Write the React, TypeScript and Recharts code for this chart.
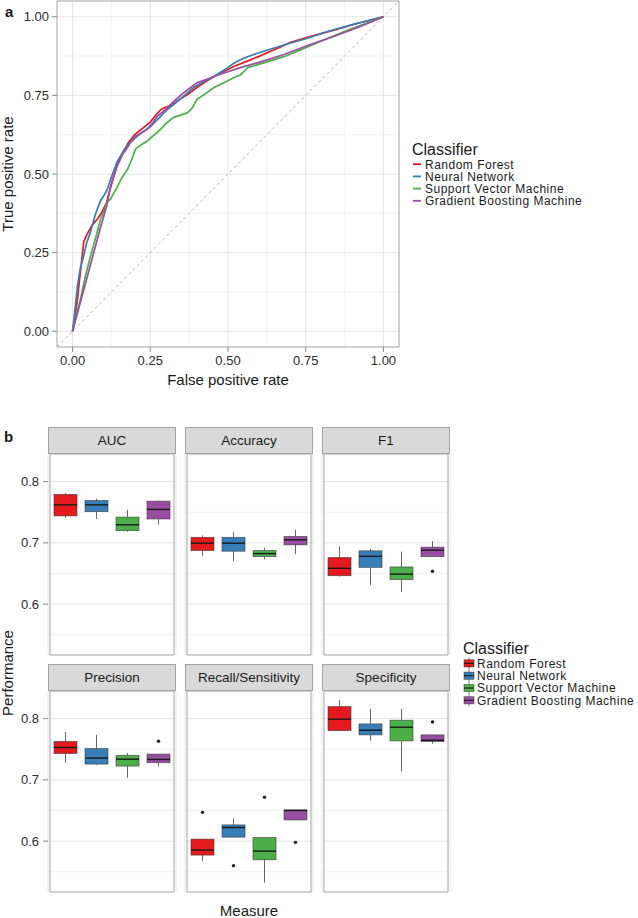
import React from "react"
import {
  Bar,
  CartesianGrid,
  ComposedChart,
  Legend,
  Line,
  LineChart,
  ReferenceArea,
  ReferenceLine,
  Scatter,
  XAxis,
  YAxis,
} from "recharts"

const FONT = '"Liberation Sans", Arial, Helvetica, sans-serif'

const classifiers = [
  "Random Forest",
  "Neural Network",
  "Support Vector Machine",
  "Gradient Boosting Machine",
]
const classifierColors = ["#E41A1C", "#377EB8", "#4DAF4A", "#984EA3"]

// panel a: ROC curves
const rfFpr = [0, 0.01, 0.016, 0.022, 0.03, 0.036, 0.045, 0.053, 0.065, 0.08, 0.095, 0.11, 0.12, 0.135, 0.144, 0.16, 0.18, 0.2, 0.225, 0.25, 0.27, 0.285, 0.3, 0.32, 0.34, 0.37, 0.4, 0.43, 0.466, 0.5, 0.518, 0.56, 0.6, 0.627, 0.66, 0.7, 0.75, 0.787, 0.85, 0.92, 1]
const rfTpr = [0, 0.06, 0.104, 0.16, 0.23, 0.285, 0.305, 0.32, 0.34, 0.357, 0.38, 0.41, 0.45, 0.5, 0.535, 0.565, 0.6, 0.625, 0.645, 0.665, 0.69, 0.705, 0.712, 0.72, 0.735, 0.753, 0.775, 0.795, 0.816, 0.832, 0.842, 0.858, 0.874, 0.886, 0.9, 0.918, 0.933, 0.943, 0.96, 0.98, 1]

const nnFpr = [0, 0.008, 0.016, 0.025, 0.036, 0.045, 0.058, 0.07, 0.08, 0.09, 0.1, 0.11, 0.125, 0.144, 0.165, 0.18, 0.197, 0.22, 0.25, 0.28, 0.305, 0.33, 0.36, 0.39, 0.42, 0.455, 0.49, 0.52, 0.55, 0.583, 0.63, 0.68, 0.75, 0.82, 0.9, 1]
const nnTpr = [0, 0.07, 0.146, 0.2, 0.24, 0.28, 0.316, 0.36, 0.39, 0.415, 0.43, 0.447, 0.49, 0.54, 0.575, 0.595, 0.61, 0.63, 0.65, 0.68, 0.705, 0.725, 0.75, 0.775, 0.793, 0.81, 0.832, 0.853, 0.868, 0.88, 0.895, 0.91, 0.93, 0.953, 0.975, 1]

const svmFpr = [0, 0.012, 0.026, 0.04, 0.058, 0.075, 0.09, 0.1, 0.11, 0.122, 0.133, 0.144, 0.16, 0.177, 0.19, 0.203, 0.22, 0.24, 0.26, 0.283, 0.3, 0.325, 0.35, 0.37, 0.385, 0.4, 0.43, 0.455, 0.49, 0.518, 0.54, 0.563, 0.62, 0.68, 0.73, 0.787, 0.88, 1]
const svmTpr = [0, 0.05, 0.104, 0.17, 0.24, 0.3, 0.357, 0.38, 0.41, 0.42, 0.44, 0.46, 0.49, 0.515, 0.545, 0.58, 0.592, 0.605, 0.622, 0.642, 0.66, 0.68, 0.688, 0.695, 0.71, 0.737, 0.757, 0.775, 0.792, 0.806, 0.815, 0.838, 0.855, 0.873, 0.893, 0.917, 0.955, 1]

const gbmFpr = [0, 0.03, 0.06, 0.09, 0.11, 0.122, 0.135, 0.144, 0.16, 0.18, 0.197, 0.22, 0.24, 0.26, 0.273, 0.3, 0.325, 0.36, 0.4, 0.43, 0.455, 0.5, 0.54, 0.6, 0.68, 0.76, 0.84, 0.92, 1]
const gbmTpr = [0, 0.11, 0.22, 0.33, 0.4, 0.46, 0.5, 0.526, 0.56, 0.59, 0.617, 0.63, 0.642, 0.665, 0.684, 0.705, 0.731, 0.76, 0.79, 0.8, 0.81, 0.825, 0.838, 0.855, 0.88, 0.91, 0.937, 0.967, 1]

const rocTicks = [0, 0.25, 0.5, 0.75, 1]
const rocMinor = [0.125, 0.375, 0.625, 0.875]
const rocDomain = [-0.05, 1.05]

// panel b: per classifier [lower whisker, q1, median, q3, upper whisker, outlier]
const aucStats = [
  [0.741, 0.744, 0.762, 0.779, 0.781, null],
  [0.739, 0.751, 0.762, 0.769, 0.772, null],
  [0.718, 0.72, 0.7295, 0.742, 0.754, null],
  [0.73, 0.739, 0.7546, 0.768, 0.769, null],
]
const accuracyStats = [
  [0.679, 0.6875, 0.6995, 0.709, 0.712, null],
  [0.67, 0.6864, 0.6995, 0.709, 0.7175, null],
  [0.673, 0.6776, 0.6825, 0.6875, 0.692, null],
  [0.6815, 0.6967, 0.705, 0.7103, 0.7213, null],
]
const f1Stats = [
  [0.645, 0.6464, 0.6585, 0.676, 0.694, null],
  [0.631, 0.66, 0.678, 0.687, 0.69, null],
  [0.62, 0.64, 0.649, 0.6607, 0.6857, null],
  [0.6776, 0.6776, 0.688, 0.693, 0.7028, 0.6536],
]
const precisionStats = [
  [0.728, 0.743, 0.7528, 0.7626, 0.778, null],
  [0.7247, 0.7257, 0.7355, 0.751, 0.7735, null],
  [0.7035, 0.7225, 0.7338, 0.74, 0.7436, null],
  [0.722, 0.728, 0.7333, 0.742, 0.742, 0.763],
]
const recallStats = [
  [0.5675, 0.5772, 0.5854, 0.6033, 0.6033, 0.647],
  [0.6065, 0.6065, 0.6222, 0.6265, 0.637, 0.56],
  [0.5326, 0.5696, 0.5837, 0.606, 0.606, 0.6715],
  [0.6346, 0.6346, 0.65, 0.651, 0.651, 0.598],
]
const specificityStats = [
  [0.78, 0.7804, 0.799, 0.8196, 0.83, null],
  [0.764, 0.7734, 0.781, 0.7913, 0.8158, null],
  [0.7136, 0.7636, 0.7859, 0.7973, 0.8158, null],
  [0.759, 0.7625, 0.7647, 0.7734, 0.7734, 0.7946],
]

const measures = ["AUC", "Accuracy", "F1", "Precision", "Recall/Sensitivity", "Specificity"]
const measureStats = [aucStats, accuracyStats, f1Stats, precisionStats, recallStats, specificityStats]

const perfTicks = [0.6, 0.7, 0.8]
const perfMinor = [0.55, 0.65, 0.75]
const perfDomain = [0.517, 0.845]

// facet layout
const PANEL_W = 128
const PANEL_H = 201
const STRIP_H = 27
const panelLefts = [48, 185, 322]
const panelTops = [454, 691]

const GRID_MAJOR = "#e6e6e6"
const GRID_MINOR = "#f3f3f3"
const BORDER = "#a3a3a3"
const TICK_TEXT = { fontSize: 13, fill: "#2b2b2b", fontFamily: FONT }

function BoxShape(props: any) {
  const { x, y, width, height, payload } = props
  if (payload == null || x == null) return <g />
  const top = Math.min(y, y + height)
  const h = Math.abs(height)
  const k = h / (payload.q3 - payload.q1)
  const py = (v: number) => top + (payload.q3 - v) * k
  const cx = x + width / 2
  return (
    <g>
      <line x1={cx} x2={cx} y1={py(payload.hi)} y2={top} stroke="#555" strokeWidth={0.9} />
      <line x1={cx} x2={cx} y1={top + h} y2={py(payload.lo)} stroke="#555" strokeWidth={0.9} />
      <rect x={x} y={top} width={width} height={h} fill={payload.color} stroke="#333" strokeOpacity={0.7} strokeWidth={0.8} />
      <line x1={x} x2={x + width} y1={py(payload.med)} y2={py(payload.med)} stroke="#1a1a1a" strokeWidth={1.4} />
    </g>
  )
}

function OutlierDot(props: any) {
  const { cx, cy, payload } = props
  if (payload == null || payload.out == null || cy == null) return <g />
  return <circle cx={cx} cy={cy} r={1.7} fill="#1a1a1a" />
}

function RocLegend() {
  return (
    <svg width={233} height={75} style={{ display: "block", overflow: "visible" }}>
      <text x={7} y={17} fontSize={16} fill="#1a1a1a" fontFamily={FONT}>
        Classifier
      </text>
      {classifiers.map((c, i) => {
        const base = 30.7 + i * 12.2
        return (
          <g key={c}>
            <line x1={8} x2={16} y1={base - 4.5} y2={base - 4.5} stroke={classifierColors[i]} strokeWidth={1.8} />
            <text x={20} y={base} fontSize={12} letterSpacing={0.5} fill="#1a1a1a" fontFamily={FONT}>
              {c}
            </text>
          </g>
        )
      })}
    </svg>
  )
}

function BoxLegend() {
  return (
    <svg width={190} height={75} style={{ display: "block", overflow: "visible" }}>
      <text x={7} y={17} fontSize={16} fill="#1a1a1a" fontFamily={FONT}>
        Classifier
      </text>
      {classifiers.map((c, i) => {
        const base = 30.7 + i * 12.3
        const mid = base - 4.3
        return (
          <g key={c}>
            <line x1={13} x2={13} y1={mid - 6} y2={mid + 6} stroke="#555" strokeWidth={0.8} />
            <rect x={8} y={mid - 3.6} width={10} height={7.2} fill={classifierColors[i]} stroke="#333" strokeOpacity={0.7} strokeWidth={0.7} />
            <line x1={8} x2={18} y1={mid} y2={mid} stroke="#1a1a1a" strokeWidth={1.1} />
            <text x={21} y={base} fontSize={12} letterSpacing={0.5} fill="#1a1a1a" fontFamily={FONT}>
              {c}
            </text>
          </g>
        )
      })}
    </svg>
  )
}

function RocPanel() {
  const series = [
    { name: classifiers[0], data: rfFpr.map((x, i) => ({ x, y: rfTpr[i] })) },
    { name: classifiers[1], data: nnFpr.map((x, i) => ({ x, y: nnTpr[i] })) },
    { name: classifiers[2], data: svmFpr.map((x, i) => ({ x, y: svmTpr[i] })) },
    { name: classifiers[3], data: gbmFpr.map((x, i) => ({ x, y: gbmTpr[i] })) },
  ]

  return (
    <div style={{ position: "absolute", left: 0, top: 0 }}>
      <LineChart width={400} height={400} margin={{ top: 1, right: 1, bottom: 23, left: 0 }}>
        <CartesianGrid horizontalValues={rocMinor} verticalValues={rocMinor} stroke={GRID_MINOR} />
        <CartesianGrid horizontalValues={rocTicks} verticalValues={rocTicks} stroke={GRID_MAJOR} />
        <XAxis
          type="number"
          dataKey="x"
          domain={rocDomain}
          ticks={rocTicks}
          allowDataOverflow
          height={30}
          tickSize={5}
          tickMargin={4}
          axisLine={false}
          tickLine={{ stroke: "#8a8a8a" }}
          tick={TICK_TEXT}
          tickFormatter={(v: number) => v.toFixed(2)}
        />
        <YAxis
          type="number"
          dataKey="y"
          domain={rocDomain}
          ticks={rocTicks}
          allowDataOverflow
          width={57}
          tickSize={5}
          tickMargin={3}
          axisLine={false}
          tickLine={{ stroke: "#8a8a8a" }}
          tick={TICK_TEXT}
          tickFormatter={(v: number) => v.toFixed(2)}
        />
        <ReferenceLine
          segment={[
            { x: rocDomain[0], y: rocDomain[0] },
            { x: rocDomain[1], y: rocDomain[1] },
          ]}
          stroke="#b5b5b5"
          strokeDasharray="3 3"
          ifOverflow="visible"
        />
        {series.map((s, i) => (
          <Line
            key={s.name}
            name={s.name}
            data={s.data}
            dataKey="y"
            type="linear"
            stroke={classifierColors[i]}
            strokeWidth={1.7}
            dot={false}
            isAnimationActive={false}
          />
        ))}
        <ReferenceArea y1={rocDomain[0]} y2={rocDomain[1]} fill="none" stroke={BORDER} ifOverflow="visible" />
        <Legend
          layout="vertical"
          align="center"
          verticalAlign="middle"
          content={() => <RocLegend />}
          wrapperStyle={{ left: 405, top: 138, width: 233, height: 75 }}
        />
      </LineChart>
    </div>
  )
}

type FacetProps = { title: string; stats: (number | null)[][]; col: number; row: number; legend?: boolean }

function Facet({ title, stats, col, row, legend }: FacetProps) {
  const data = stats.map((s, i) => ({
    name: classifiers[i],
    color: classifierColors[i],
    lo: s[0],
    q1: s[1],
    med: s[2],
    q3: s[3],
    hi: s[4],
    box: [s[1], s[3]],
    out: s[5],
  }))
  const left = panelLefts[col]
  const top = panelTops[row]
  const first = col === 0
  const chartLeft = first ? 0 : left - 1
  const chartWidth = first ? left + PANEL_W + 1 : PANEL_W + 2

  return (
    <>
      <div
        style={{
          position: "absolute",
          left,
          top: top - STRIP_H,
          width: PANEL_W,
          height: STRIP_H,
          boxSizing: "border-box",
          border: `1px solid ${BORDER}`,
          background: "#d9d9d9",
          color: "#1a1a1a",
          fontSize: 13.5,
          lineHeight: `${STRIP_H - 2}px`,
          textAlign: "center",
          whiteSpace: "nowrap",
        }}
      >
        {title}
      </div>
      <div style={{ position: "absolute", left: chartLeft, top: top - 1 }}>
        <ComposedChart
          width={chartWidth}
          height={PANEL_H + 2}
          data={data}
          margin={{ top: 1, right: 1, bottom: 1, left: first ? 0 : 1 }}
        >
          <CartesianGrid vertical={false} horizontalValues={perfMinor} stroke={GRID_MINOR} />
          <CartesianGrid horizontalValues={perfTicks} stroke={GRID_MAJOR} />
          <XAxis
            dataKey="name"
            type="category"
            height={0}
            tick={false}
            tickLine={false}
            axisLine={false}
            padding={{ left: 2, right: 2 }}
          />
          <YAxis
            type="number"
            domain={perfDomain}
            ticks={perfTicks}
            allowDataOverflow
            hide={!first}
            width={first ? left : 0}
            tickSize={5}
            tickMargin={4}
            axisLine={false}
            tickLine={{ stroke: "#8a8a8a" }}
            tick={TICK_TEXT}
            tickFormatter={(v: number) => v.toFixed(1)}
          />
          <Bar dataKey="box" barSize={23} shape={BoxShape} isAnimationActive={false} />
          <Scatter dataKey="out" shape={OutlierDot} isAnimationActive={false} />
          <ReferenceArea y1={perfDomain[0]} y2={perfDomain[1]} fill="none" stroke={BORDER} ifOverflow="visible" />
          {legend && (
            <Legend
              layout="vertical"
              align="center"
              verticalAlign="middle"
              content={() => <BoxLegend />}
              wrapperStyle={{ left: 456 - chartLeft, top: 637 - (top - 1), width: 190, height: 75 }}
            />
          )}
        </ComposedChart>
      </div>
    </>
  )
}

export default function App() {
  return (
    <div
      style={{
        position: "absolute",
        left: 0,
        top: 0,
        width: 638,
        height: 918,
        background: "#fff",
        fontFamily: FONT,
        overflow: "hidden",
      }}
    >
      <RocPanel />
      {measures.map((m, i) => (
        <Facet
          key={m}
          title={m}
          stats={measureStats[i]}
          col={i % 3}
          row={Math.floor(i / 3)}
          legend={i === 5}
        />
      ))}
      <svg
        width={638}
        height={918}
        style={{ position: "absolute", left: 0, top: 0, pointerEvents: "none" }}
      >
        <g fontFamily={FONT} fill="#1a1a1a">
          <text x={5} y={17} fontSize={15} fontWeight="bold">a</text>
          <text x={4} y={442} fontSize={15} fontWeight="bold">b</text>
          <text x={228} y={385} fontSize={15} textAnchor="middle">False positive rate</text>
          <text transform="translate(13,174) rotate(-90)" fontSize={15} textAnchor="middle">True positive rate</text>
          <text x={249} y={916} fontSize={15} textAnchor="middle">Measure</text>
          <text transform="translate(13,673) rotate(-90)" fontSize={15} textAnchor="middle">Performance</text>
        </g>
      </svg>
    </div>
  )
}
